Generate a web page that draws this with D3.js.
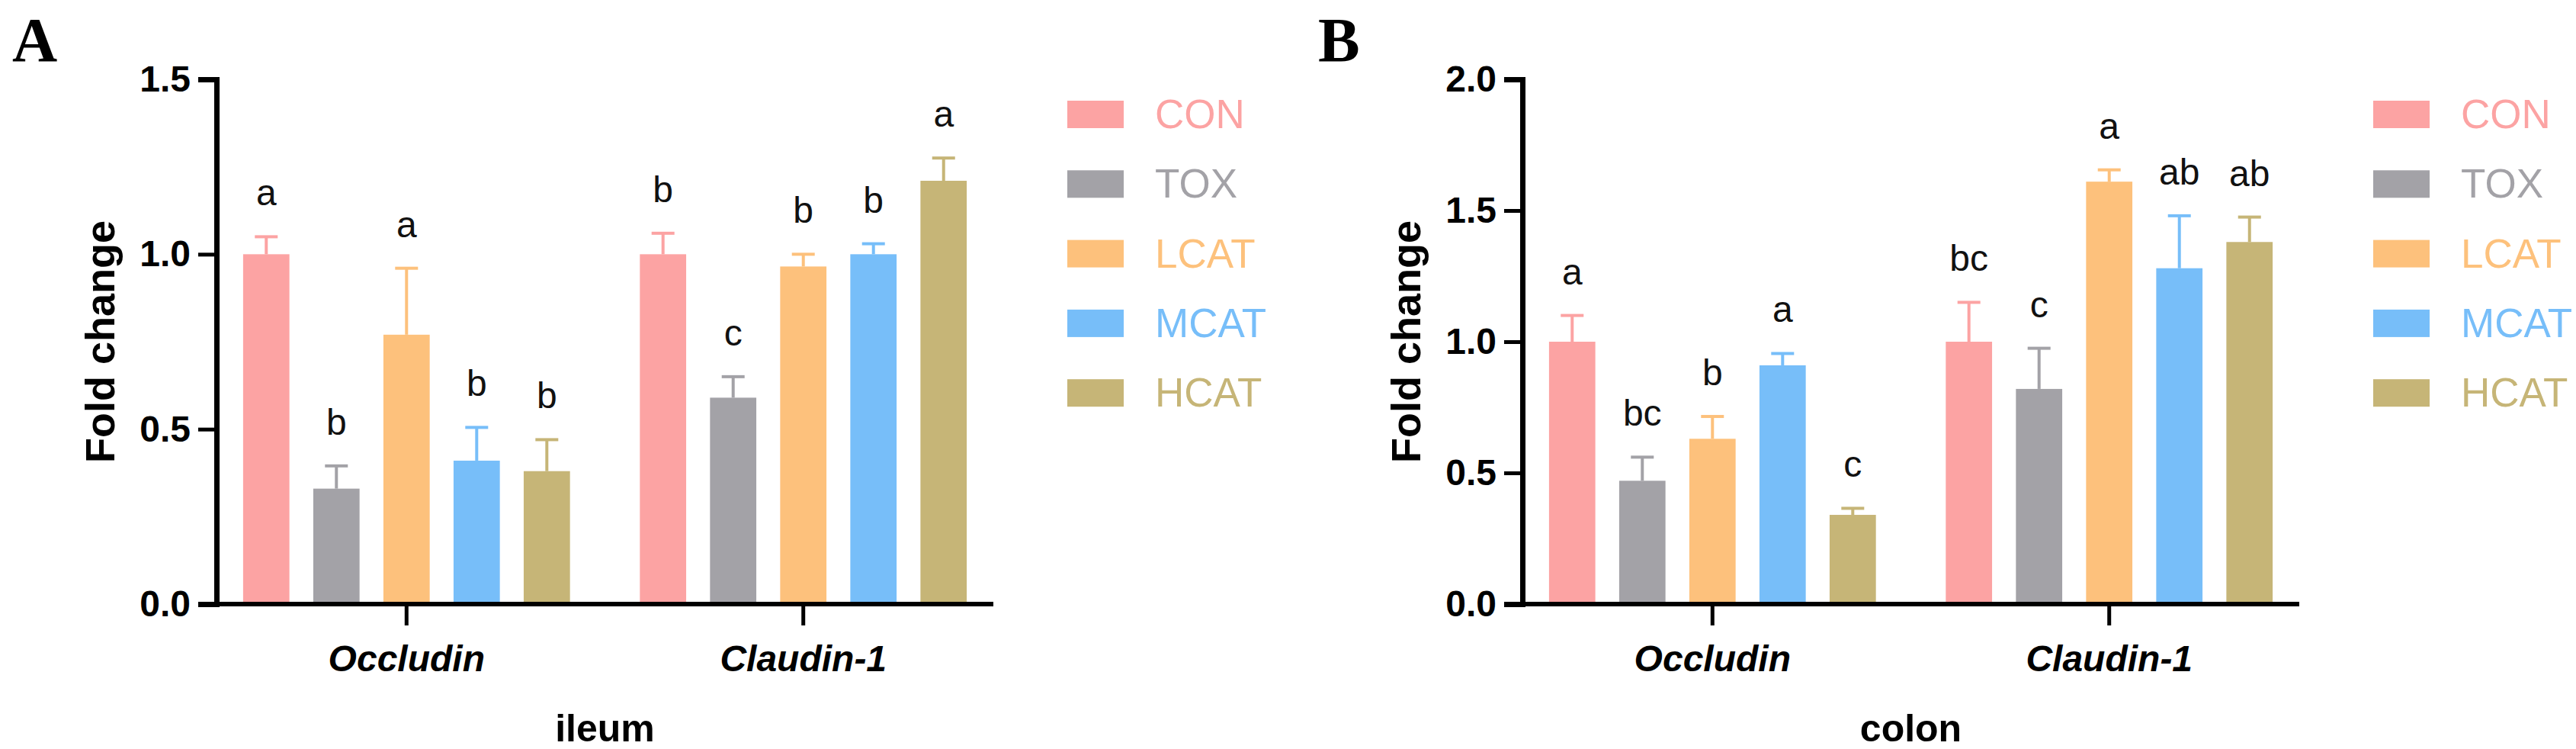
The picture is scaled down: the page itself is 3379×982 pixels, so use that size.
<!DOCTYPE html>
<html>
<head>
<meta charset="utf-8">
<script src="https://cdn.jsdelivr.net/npm/d3@7"></script>
<style>
  body { margin: 0; background: #fff; }
</style>
</head>
<body>
<div id="chart"></div>
<script>
// categories and groups
var genes = ["Occludin", "Claudin-1"];
var groups = ["CON", "TOX", "LCAT", "MCAT", "HCAT"];
var groupColors = ["#fca3a3", "#a3a2a7", "#fdc17c", "#77bef9", "#c6b577"];

// ileum (panel A)
var ileumMeans = [[1.00, 0.33, 0.77, 0.41, 0.38], [1.00, 0.59, 0.965, 1.00, 1.21]];
var ileumErr = [[0.05, 0.065, 0.19, 0.095, 0.09], [0.06, 0.06, 0.035, 0.03, 0.065]];
var ileumLetters = [["a", "b", "a", "b", "b"], ["b", "c", "b", "b", "a"]];
var ileumTicks = [0, 0.5, 1.0, 1.5];

// colon (panel B)
var colonMeans = [[1.00, 0.47, 0.63, 0.91, 0.34], [1.00, 0.82, 1.61, 1.28, 1.38]];
var colonErr = [[0.10, 0.09, 0.085, 0.045, 0.025], [0.15, 0.155, 0.045, 0.20, 0.095]];
var colonLetters = [["a", "bc", "b", "a", "c"], ["bc", "c", "a", "ab", "ab"]];
var colonTicks = [0, 0.5, 1.0, 1.5, 2.0];

var SANS = "'Liberation Sans', Arial, sans-serif";
var SERIF = "'Liberation Serif', 'Times New Roman', serif";

var W = 3379, H = 982;
var svg = d3.select("#chart").append("svg")
    .attr("width", W).attr("height", H)
    .style("font-family", SANS);

function panel(opts) {
    var x0 = opts.x0, top = 104, bottom = 792, plotW = 1019;
    var g = svg.append("g");

    var y = d3.scaleLinear().domain([0, d3.max(opts.ticks)]).range([bottom, top]);
    var xGene = d3.scaleBand().domain(genes).range([x0, x0 + plotW])
        .paddingInner(0.116).paddingOuter(0.037);
    var xGroup = d3.scaleBand().domain(groups).range([0, xGene.bandwidth()])
        .paddingInner(0.34).paddingOuter(0.17);

    // flatten into bar records
    var bars = [];
    genes.forEach(function(gene, gi) {
        groups.forEach(function(grp, k) {
            bars.push({gene: gene, group: grp, k: k,
                       mean: opts.means[gi][k], err: opts.err[gi][k], letter: opts.letters[gi][k]});
        });
    });

    g.selectAll("rect.bar").data(bars).enter().append("rect")
        .attr("class", "bar")
        .attr("x", function(d) { return xGene(d.gene) + xGroup(d.group); })
        .attr("y", function(d) { return y(d.mean); })
        .attr("width", xGroup.bandwidth())
        .attr("height", function(d) { return y(0) - y(d.mean); })
        .attr("fill", function(d) { return groupColors[d.k]; });

    // upper error bars
    var cx = function(d) { return xGene(d.gene) + xGroup(d.group) + xGroup.bandwidth() / 2; };
    g.selectAll("line.err").data(bars).enter().append("line")
        .attr("x1", cx).attr("x2", cx)
        .attr("y1", function(d) { return y(d.mean); })
        .attr("y2", function(d) { return y(d.mean + d.err); })
        .attr("stroke", function(d) { return groupColors[d.k]; })
        .attr("stroke-width", 4);
    g.selectAll("line.cap").data(bars).enter().append("line")
        .attr("x1", function(d) { return cx(d) - 15; })
        .attr("x2", function(d) { return cx(d) + 15; })
        .attr("y1", function(d) { return y(d.mean + d.err); })
        .attr("y2", function(d) { return y(d.mean + d.err); })
        .attr("stroke", function(d) { return groupColors[d.k]; })
        .attr("stroke-width", 4);

    // significance letters
    g.selectAll("text.sig").data(bars).enter().append("text")
        .attr("x", cx)
        .attr("y", function(d) { return y(d.mean + d.err) - 41; })
        .attr("text-anchor", "middle")
        .style("font-size", "48px")
        .attr("fill", "#111")
        .text(function(d) { return d.letter; });

    // y axis
    var yAxis = g.append("g").attr("transform", "translate(" + x0 + ",0)")
        .call(d3.axisLeft(y).tickValues(opts.ticks).tickFormat(d3.format(".1f"))
              .tickSizeOuter(0).tickSize(24).tickPadding(10));
    yAxis.select(".domain").attr("stroke", "#000").attr("stroke-width", 7);
    yAxis.selectAll(".tick line").attr("stroke", "#000").attr("stroke-width", 5);
    yAxis.selectAll(".tick text").style("font-size", "48px").style("font-weight", "bold")
        .style("font-family", SANS).attr("fill", "#000");

    // x axis
    var xAxis = g.append("g").attr("transform", "translate(0," + bottom + ")")
        .call(d3.axisBottom(xGene).tickSizeOuter(0).tickSize(28).tickPadding(26));
    xAxis.select(".domain").attr("stroke", "#000").attr("stroke-width", 6)
        .attr("d", "M" + (x0 - 3) + ",0H" + (x0 + plotW));
    xAxis.selectAll(".tick line").attr("stroke", "#000").attr("stroke-width", 5);
    xAxis.selectAll(".tick text").style("font-size", "48px").style("font-weight", "bold")
        .style("font-style", "italic")
        .style("font-family", SANS).attr("fill", "#000");

    // axis titles
    g.append("text")
        .attr("transform", "translate(" + (x0 - 134) + "," + ((top + bottom) / 2) + ") rotate(-90)")
        .attr("text-anchor", "middle")
        .style("font-size", "54px").style("font-weight", "bold")
        .text("Fold change");
    g.append("text")
        .attr("x", x0 + plotW / 2).attr("y", 972)
        .attr("text-anchor", "middle")
        .style("font-size", "50px").style("font-weight", "bold")
        .text(opts.tissue);

    // panel letter
    g.append("text")
        .attr("x", x0 - 268).attr("y", 80)
        .style("font-family", SERIF)
        .style("font-size", "82px").style("font-weight", "bold")
        .text(opts.label);

    // legend
    var leg = g.selectAll("g.leg").data(groups).enter().append("g")
        .attr("transform", function(d, i) { return "translate(" + (x0 + 1116) + "," + (132 + i * 91.3) + ")"; });
    leg.append("rect").attr("width", 74).attr("height", 36)
        .attr("fill", function(d, i) { return groupColors[i]; });
    leg.append("text").attr("x", 115).attr("y", 36)
        .style("font-size", "53px")
        .attr("fill", function(d, i) { return groupColors[i]; })
        .text(function(d) { return d; });
}

panel({x0: 284, label: "A", tissue: "ileum", ticks: ileumTicks,
       means: ileumMeans, err: ileumErr, letters: ileumLetters});
panel({x0: 1997, label: "B", tissue: "colon", ticks: colonTicks,
       means: colonMeans, err: colonErr, letters: colonLetters});
</script>
</body>
</html>
